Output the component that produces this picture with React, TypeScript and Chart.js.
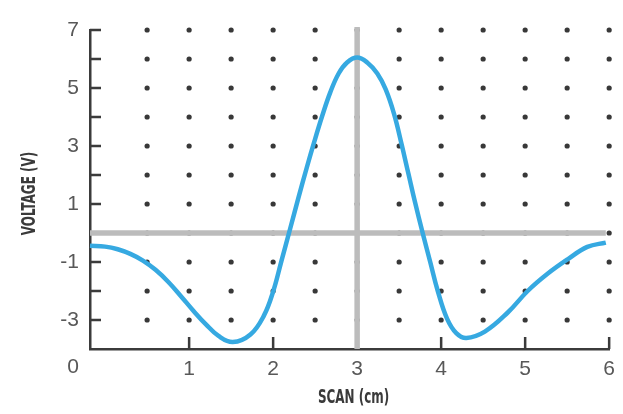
import { useEffect, useRef } from 'react';
import { Chart, registerables } from 'chart.js';

Chart.register(...registerables);

// Scan position (cm) and measured voltage (V) along the trace
const SCAN_CM = [
  -0.18, 0.0, 0.15, 0.3, 0.45, 0.6, 0.75, 0.9, 1.05, 1.2, 1.35, 1.52, 1.73,
  1.89, 2.0, 2.1, 2.2, 2.3, 2.4, 2.49, 2.58, 2.68, 2.78, 2.88, 3.0, 3.12, 3.24,
  3.34, 3.44, 3.53, 3.61, 3.69, 3.78, 3.87, 3.96, 4.07, 4.18, 4.3, 4.52, 4.79,
  5.03, 5.27, 5.51, 5.74, 5.96,
];
const VOLTAGE_V = [
  -0.44, -0.47, -0.56, -0.72, -0.95, -1.27, -1.68, -2.17, -2.68, -3.15, -3.55, -3.76, -3.5,
  -2.85, -2.02, -0.95, 0.12, 1.2, 2.25, 3.15, 4.0, 4.85, 5.5, 5.88, 6.05, 5.88, 5.5,
  4.95, 4.1, 3.05, 2.05, 1.05, 0.0, -1.0, -2.0, -2.95, -3.45, -3.62, -3.4, -2.75,
  -2.0, -1.4, -0.9, -0.48, -0.33,
];

// Dot grid positions
const DOT_X = [0.5, 1, 1.5, 2, 2.5, 3, 3.5, 4, 4.5, 5, 5.5, 6];
const DOT_Y = [-3, -2, -1, 0, 1, 2, 3, 4, 5, 6, 7];

// Axis ticks and labels
const X_TICKS = [1, 2, 3, 4, 5, 6];
const Y_TICKS = [-3, -2, -1, 0, 1, 2, 3, 4, 5, 6, 7];
const Y_LABELED = [-3, -1, 1, 3, 5, 7];
const ORIGIN_LABEL = '0';
const X_MIN = -0.18;
const X_MAX = 6;
const Y_MIN = -4;
const Y_MAX = 7;
const X_TITLE = 'SCAN (cm)';
const Y_TITLE = 'VOLTAGE (V)';

// Reference cross-hair through the peak
const CROSS_X = [3, 3];
const CROSS_X_SPAN = [-4, 7.1];
const CROSS_Y = [0, 0];
const CROSS_Y_SPAN = [-0.18, 5.96];

const AXIS_COLOR = '#3b3b3b';
const LABEL_COLOR = '#585858';
const TITLE_COLOR = '#3a3a3a';
const TICK_FONT = { family: "'Liberation Sans', Arial, sans-serif", size: 21 };
const TITLE_FONT = "bold 19px 'DejaVu Sans Condensed', 'DejaVu Sans', sans-serif";
const TITLE_SQUEEZE = 0.7;
const X_LABEL_PAD = 8;
const Y_LABEL_PAD = 11;

const axisDecor = {
  id: 'axisDecor',
  beforeDatasetsDraw(chart: any) {
    const { ctx, scales } = chart;
    const x = scales.x;
    const y = scales.y;
    ctx.save();
    ctx.strokeStyle = AXIS_COLOR;
    ctx.lineWidth = 2.5;
    ctx.lineCap = 'butt';
    ctx.beginPath();
    for (const v of Y_TICKS) {
      const py = y.getPixelForValue(v);
      ctx.moveTo(x.left, py);
      ctx.lineTo(x.left + 11, py);
    }
    for (const v of X_TICKS) {
      const px = x.getPixelForValue(v);
      ctx.moveTo(px, y.bottom);
      ctx.lineTo(px, y.bottom - 12);
    }
    ctx.stroke();

    // origin label sits in the corner, in line with the y labels
    ctx.fillStyle = LABEL_COLOR;
    ctx.font = `${TICK_FONT.size}px ${TICK_FONT.family}`;
    ctx.textAlign = 'right';
    ctx.textBaseline = 'top';
    ctx.fillText(ORIGIN_LABEL, y.right - Y_LABEL_PAD, x.top + X_LABEL_PAD);

    // condensed bold axis titles
    const drawTitle = (text: string, cx: number, cy: number, rot: number) => {
      ctx.save();
      ctx.translate(cx, cy);
      ctx.rotate(rot);
      ctx.scale(TITLE_SQUEEZE, 1);
      ctx.font = TITLE_FONT;
      ctx.fillStyle = TITLE_COLOR;
      ctx.textAlign = 'center';
      ctx.textBaseline = 'middle';
      ctx.fillText(text, 0, 0);
      ctx.restore();
    };
    drawTitle(X_TITLE, (x.left + x.right) / 2 + 4, x.bottom - 16, 0);
    drawTitle(Y_TITLE, y.left + 30, (y.top + y.bottom) / 2 + 4, -Math.PI / 2);
    ctx.restore();
  },
};

export default function App() {
  const ref = useRef<HTMLCanvasElement | null>(null);

  useEffect(() => {
    if (!ref.current) return;
    const dots: { x: number; y: number }[] = [];
    for (const dx of DOT_X) for (const dy of DOT_Y) dots.push({ x: dx, y: dy });

    const chart = new Chart(ref.current, {
      type: 'line',
      data: {
        datasets: [
          {
            label: 'Voltage',
            data: SCAN_CM.map((x, i) => ({ x, y: VOLTAGE_V[i] })),
            borderColor: '#36a9e1',
            borderWidth: 4.5,
            pointRadius: 0,
            tension: 0.4,
            fill: false,
            clip: false as any,
            order: 0,
          },
          {
            label: 'vertical',
            data: CROSS_X.map((x, i) => ({ x, y: CROSS_X_SPAN[i] })),
            borderColor: '#bcbcbc',
            borderWidth: 5.5,
            borderCapStyle: 'butt',
            pointRadius: 0,
            clip: false as any,
            order: 1,
          },
          {
            label: 'horizontal',
            data: CROSS_Y.map((y, i) => ({ x: CROSS_Y_SPAN[i], y })),
            borderColor: '#bcbcbc',
            borderWidth: 5.5,
            borderCapStyle: 'butt',
            pointRadius: 0,
            clip: false as any,
            order: 1,
          },
          {
            label: 'grid',
            data: dots,
            showLine: false,
            pointRadius: 2.6,
            pointBorderWidth: 0,
            pointBackgroundColor: '#383838',
            borderColor: '#383838',
            clip: false as any,
            order: 2,
          },
        ],
      },
      options: {
        responsive: false,
        animation: false,
        events: [],
        layout: { padding: { top: 30, right: 11, left: 0, bottom: 0 } },
        plugins: { legend: { display: false }, tooltip: { enabled: false } },
        scales: {
          x: {
            type: 'linear',
            min: X_MIN,
            max: X_MAX,
            grid: { display: false, drawTicks: false },
            border: { display: true, color: AXIS_COLOR, width: 2.5 },
            afterBuildTicks: (s: any) => {
              s.ticks = X_TICKS.map((value) => ({ value }));
            },
            afterFit: (s: any) => {
              s.height = 65;
            },
            ticks: {
              autoSkip: false,
              maxRotation: 0,
              padding: X_LABEL_PAD,
              color: LABEL_COLOR,
              font: TICK_FONT,
              callback: (v: any) => String(v),
            },
            title: { display: false },
          },
          y: {
            type: 'linear',
            min: Y_MIN,
            max: Y_MAX,
            grid: { display: false, drawTicks: false },
            border: { display: true, color: AXIS_COLOR, width: 2.5 },
            afterBuildTicks: (s: any) => {
              s.ticks = Y_TICKS.map((value) => ({ value }));
            },
            afterFit: (s: any) => {
              s.width = 90;
            },
            ticks: {
              autoSkip: false,
              padding: Y_LABEL_PAD,
              color: LABEL_COLOR,
              font: TICK_FONT,
              callback: (v: any) => (Y_LABELED.includes(Number(v)) ? String(v) : ''),
            },
            title: { display: false },
          },
        },
      },
      plugins: [axisDecor],
    } as any);
    return () => chart.destroy();
  }, []);

  return (
    <div style={{ position: 'absolute', left: 0, top: 0, width: 623, height: 414, background: '#fff' }}>
      <canvas ref={ref} width={623} height={414} />
    </div>
  );
}
